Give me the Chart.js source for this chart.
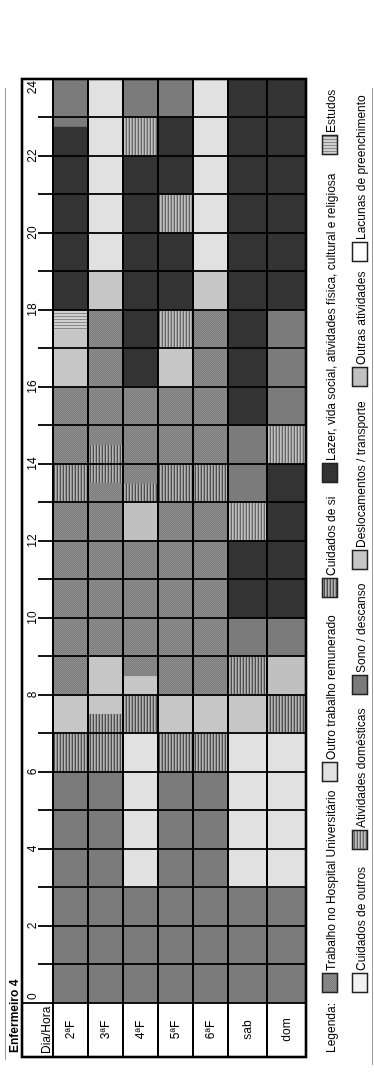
<!DOCTYPE html>
<html>
<head>
<title>Enfermeiro 4</title>
<script src="https://cdn.jsdelivr.net/npm/chart.js@4.4.1/dist/chart.umd.min.js"></script>
<style>
html, body { margin:0; padding:0; background:#fff; overflow:hidden; }
#wrap { position:absolute; left:0; top:0; width:1073px; height:374px; transform-origin:0 0; transform:translateY(1073px) rotate(-90deg); }
</style>
</head>
<body>
<div id="wrap"><canvas id="myChart" width="1073" height="374"></canvas></div>
<script>
// data (hours of the day per activity, one entry per block: [day, start, end])
var weekdays = ['2ªF', '3ªF', '4ªF', '5ªF', '6ªF'];
var weekend = ['sab', 'dom'];
var hourTicks = ['0', '2', '4', '6', '8', '10', '12', '14', '16', '18', '20', '22', '24'];
var activities = [
  'Trabalho no Hospital Universitário', 'Outro trabalho remunerado', 'Cuidados de si',
  'Lazer, vida social, atividades física, cultural e religiosa', 'Estudos',
  'Cuidados de outros', 'Atividades domésticas', 'Sono / descanso',
  'Deslocamentos / transporte', 'Outras atividades', 'Lacunas de preenchimento'
];
var trabalho = [['2ªF', 8, 13], ['2ªF', 14, 16], ['3ªF', 9, 13.5], ['3ªF', 14.5, 18], ['4ªF', 8.5, 12], ['4ªF', 13.5, 16],
  ['5ªF', 8, 13], ['5ªF', 14, 16], ['6ªF', 8, 13], ['6ªF', 14, 18]];
var outroTrabalho = [['3ªF', 19, 24], ['4ªF', 3, 7], ['6ªF', 19, 24], ['sab', 3, 7], ['dom', 3, 7]];
var cuidadosSi = [['2ªF', 6, 7], ['2ªF', 13, 14], ['3ªF', 6, 7.5], ['3ªF', 13.5, 14.5], ['4ªF', 7, 8], ['4ªF', 13, 13.5],
  ['5ªF', 6, 7], ['5ªF', 13, 14], ['6ªF', 6, 7], ['6ªF', 13, 14], ['sab', 8, 9], ['dom', 7, 8]];
var lazer = [['2ªF', 18, 22.75], ['4ªF', 16, 22], ['5ªF', 18, 20], ['5ªF', 21, 23], ['sab', 10, 12], ['sab', 15, 24],
  ['dom', 10, 14], ['dom', 18, 24]];
var estudos = [['2ªF', 17.5, 18]];
var cuidadosOutros = [];
var domesticas = [['4ªF', 22, 23], ['5ªF', 17, 18], ['5ªF', 20, 21], ['sab', 12, 13], ['dom', 14, 15]];
var sono = [['2ªF', 0, 6], ['2ªF', 22.75, 24], ['3ªF', 0, 6], ['4ªF', 0, 3], ['4ªF', 23, 24], ['5ªF', 0, 6], ['5ªF', 23, 24],
  ['6ªF', 0, 6], ['sab', 0, 3], ['sab', 9, 10], ['sab', 13, 15], ['dom', 0, 3], ['dom', 9, 10], ['dom', 15, 18]];
var deslocamentos = [['2ªF', 7, 8], ['2ªF', 16, 17.5], ['3ªF', 7.5, 9], ['3ªF', 18, 19], ['4ªF', 8, 8.5], ['5ªF', 7, 8],
  ['5ªF', 16, 17], ['6ªF', 7, 8], ['6ªF', 18, 19], ['sab', 7, 8]];
var outras = [['4ªF', 12, 13], ['dom', 8, 9]];
var lacunas = [];

var blocks = [trabalho, outroTrabalho, cuidadosSi, lazer, estudos, cuidadosOutros, domesticas, sono, deslocamentos, outras, lacunas];

var FONT = '"Liberation Sans", Arial, sans-serif';
var ctx = document.getElementById('myChart').getContext('2d');

// fill patterns
function tile(w, h, cols, vertical) {
  var c = document.createElement('canvas');
  c.width = w; c.height = h;
  var g = c.getContext('2d');
  for (var i = 0; i < cols.length; i++) {
    g.fillStyle = cols[i];
    if (vertical) g.fillRect(i, 0, 1, h); else g.fillRect(0, i, w, 1);
  }
  return ctx.createPattern(c, 'repeat');
}
function dots(a, b) {
  var c = document.createElement('canvas');
  c.width = 2; c.height = 2;
  var g = c.getContext('2d');
  g.fillStyle = a; g.fillRect(0, 0, 2, 2);
  g.fillStyle = b; g.fillRect(0, 0, 1, 1); g.fillRect(1, 1, 1, 1);
  return ctx.createPattern(c, 'repeat');
}
var fills = [
  dots('#7c7c7c', '#8e8e8e'),
  '#e1e1e1',
  tile(4, 3, ['#4e4e4e', '#b4b4b4', '#929292']),
  '#333333',
  tile(3, 4, ['#8a8a8a', '#cfcfcf', '#cfcfcf'], true),
  '#f2f2f2',
  tile(4, 3, ['#666666', '#c0c0c0', '#a0a0a0']),
  '#7b7b7b',
  '#c6c6c6',
  '#c0c0c0',
  '#ffffff'
];

// one dataset per activity and per axis (weekdays / weekend rows)
var datasets = [];
activities.forEach(function (name, i) {
  [['yWd', weekdays], ['yWe', weekend]].forEach(function (ax) {
    datasets.push({
      label: name,
      yAxisID: ax[0],
      data: blocks[i].filter(function (b) { return ax[1].indexOf(b[0]) >= 0; })
        .map(function (b) { return { y: b[0], x: [b[1], b[2]] }; }),
      backgroundColor: fills[i]
    });
  });
});

function line(c, x1, y1, x2, y2, w, col) {
  c.beginPath();
  c.lineWidth = w;
  c.strokeStyle = col || '#000';
  c.moveTo(x1, y1); c.lineTo(x2, y2);
  c.stroke();
}

var tablePlugin = {
  id: 'table',
  beforeDraw: function (chart) {
    var c = chart.ctx;
    c.save();
    c.fillStyle = '#fff';
    c.fillRect(0, 0, chart.width, chart.height);
    c.restore();
  },
  afterDatasetsDraw: function (chart) {
    var c = chart.ctx, ca = chart.chartArea, xs = chart.scales.x;
    var axes = [[chart.scales.yWd, weekdays], [chart.scales.yWe, weekend]];
    var L = 16, T = 22;
    c.save();
    // hour lines
    for (var h = 1; h < 24; h++) {
      var x = Math.round(xs.getPixelForValue(h));
      line(c, x, T + 16, x, ca.bottom, 1.8);
    }
    // day rows
    axes.forEach(function (a) {
      for (var k = 0; k <= a[1].length; k++) {
        var y = Math.round(a[0].getPixelForValue(k - 0.5));
        line(c, L, y, ca.right, y, 1.8);
      }
    });
    line(c, ca.left, T, ca.left, ca.bottom, 1.8);
    c.lineWidth = 2.6;
    c.strokeStyle = '#000';
    c.strokeRect(L, T, ca.right - L, ca.bottom - T);

    // texts
    c.fillStyle = '#000';
    c.font = '12px ' + FONT;
    c.textBaseline = 'alphabetic';
    hourTicks.forEach(function (t) {
      var v = +t, px = xs.getPixelForValue(v);
      if (v === 0) { c.textAlign = 'left'; px += 3; }
      else if (v === 24) { c.textAlign = 'right'; px -= 2; }
      else c.textAlign = 'center';
      c.fillText(t, px, 35.5);
    });
    c.textAlign = 'left';
    c.fillText('Dia/Hora', L + 3, 49.5);
    c.textAlign = 'center';
    c.textBaseline = 'middle';
    axes.forEach(function (a) {
      a[1].forEach(function (d, i) {
        c.fillText(d, (L + ca.left) / 2, a[0].getPixelForValue(i));
      });
    });

    // title
    c.textAlign = 'left';
    c.textBaseline = 'alphabetic';
    c.font = 'bold 12px ' + FONT;
    c.fillText('Enfermeiro 4', 20, 18);

    // rules
    line(c, 13, 5.5, 985, 5.5, 1, '#9a9a9a');
    line(c, 8, 372.5, 985, 372.5, 1, '#9a9a9a');

    // legend
    c.font = '12px ' + FONT;
    c.fillStyle = '#000';
    c.fillText('Legenda:', 20, 334.5);
    var rows = [
      { y: 322, idx: [0, 1, 2, 3, 4], xs: [80, 291, 475, 590, 918] },
      { y: 352, idx: [5, 6, 7, 8, 9, 10], xs: [80, 223, 378, 503, 686, 811] }
    ];
    rows.forEach(function (r) {
      r.idx.forEach(function (ai, j) {
        var bx = r.xs[j];
        c.fillStyle = fills[ai];
        c.fillRect(bx, r.y, 20, 16);
        c.lineWidth = 1.5;
        c.strokeStyle = '#222';
        c.strokeRect(bx + 0.5, r.y + 0.5, 19, 15);
        c.fillStyle = '#000';
        c.fillText(activities[ai], bx + 22, r.y + 12.5);
      });
    });
    c.restore();
  }
};

var chart = new Chart(ctx, {
  type: 'bar',
  data: { datasets: datasets },
  options: {
    responsive: false,
    animation: false,
    indexAxis: 'y',
    layout: { padding: { left: 70, right: 79, top: 53, bottom: 68 } },
    plugins: { legend: { display: false }, tooltip: { enabled: false } },
    datasets: { bar: { grouped: false, barPercentage: 1, categoryPercentage: 1, borderWidth: 0, borderSkipped: false } },
    scales: {
      x: { type: 'linear', min: 0, max: 24, display: false },
      yWe: { type: 'category', axis: 'y', position: 'left', labels: weekend, offset: true, display: false, stack: 'days', stackWeight: 78 },
      yWd: { type: 'category', axis: 'y', position: 'left', labels: weekdays, offset: true, display: false, stack: 'days', stackWeight: 175 }
    }
  },
  plugins: [tablePlugin]
});
</script>
</body>
</html>
